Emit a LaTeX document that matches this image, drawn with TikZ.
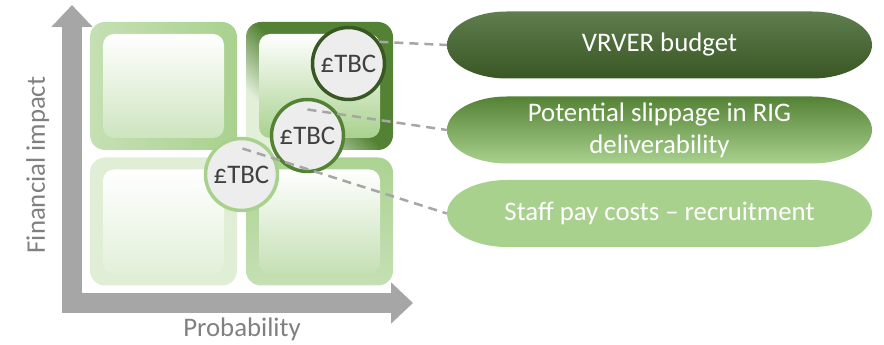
\documentclass[tikz,border=0pt]{standalone}
\usepackage{fontspec}
\setmainfont{Carlito}
\usepackage{tikz}
\usetikzlibrary{arrows.meta,positioning,calc}

\definecolor{axisgrey}{HTML}{A6A6A6}
\definecolor{labelgrey}{HTML}{808080}
\definecolor{tbcgrey}{HTML}{404040}
\definecolor{tbcfill}{HTML}{EDEDED}
\definecolor{darkgreen}{HTML}{385723}
\definecolor{midgreen}{HTML}{548235}
\definecolor{lightgreen}{HTML}{A9D18E}
\definecolor{palegreen}{HTML}{C5E0B4}
\definecolor{faintgreen}{HTML}{E2F0D9}
\definecolor{pilltop}{RGB}{95,125,78}
\colorlet{hhfade}{palegreen!50!white}

% dark frame that fades out towards one corner
\pgfdeclareverticalshading{hhframe}{100bp}{color(0bp)=(hhfade); color(30bp)=(hhfade); color(50bp)=(midgreen); color(100bp)=(midgreen)}

\newcommand{\bigfont}{\fontsize{26.8}{32}\selectfont}

\begin{document}
\begin{tikzpicture}[
  x=1pt, y=1pt,
  axis/.style={draw=axisgrey, line width=20pt, line join=miter, >={Triangle[length=22pt,width=40pt]}, <->},
  axlabel/.style={text=labelgrey, font=\bigfont, inner sep=0pt},
  frame/.style={rounded corners=15pt, minimum width=147pt, minimum height=128pt, inner sep=0pt},
  well/.style={rounded corners=11pt, minimum width=121pt, minimum height=104pt, inner sep=0pt, top color=white},
  tbc/.style={circle, draw=#1, line width=3.5pt, fill=tbcfill, minimum size=72pt, inner sep=0pt, text=tbcgrey, font=\bigfont},
  pill/.style={minimum width=425pt, minimum height=67pt, inner sep=0pt, align=center, text=white, font=\bigfont,
    path picture={
      \shade[#1] let \p1=(path picture bounding box.south west), \p2=(path picture bounding box.north east) in
        (\x1+60pt,\y1) -- (\x2-60pt,\y1) arc[start angle=-90, end angle=90, x radius=60pt, y radius=33.5pt]
        -- (\x1+60pt,\y2) arc[start angle=90, end angle=270, x radius=60pt, y radius=33.5pt] -- cycle;
    }},
  link/.style={draw=axisgrey, line width=2.5pt, dash pattern=on 9pt off 6pt}
]
\useasboundingbox (0,0) rectangle (884,345);

% axes
\coordinate (origin) at (72,42);
\coordinate (ytip) at (72,340);
\coordinate (xtip) at (413,42);
\draw[axis] (ytip) -- (origin) -- (xtip);
\node[axlabel, anchor=base] (xlab) at (242,8) {Probability};
\node[axlabel, anchor=base, rotate=90] (ylab) at (45,180) {Financial impact};

% the four quadrants
\node[frame, left color=palegreen, right color=lightgreen] (hl) at (163.5,259) {};
\node[well, bottom color=palegreen!85!white] (hl-in) at (hl) {};
\node[frame, shading=hhframe, shading angle=-45] (hh) at (319.5,259) {};
\node[well, bottom color=lightgreen] (hh-in) at (hh) {};
\node[frame, fill=faintgreen!90!palegreen] (ll) at (163.5,123.5) {};
\node[well, bottom color=faintgreen] (ll-in) at (ll) {};
\node[frame, top color=lightgreen!90!palegreen, bottom color=palegreen] (lh) at (319.5,123.5) {};
\node[well, bottom color=palegreen] (lh-in) at (lh) {};

% cost markers
\node[tbc=darkgreen] (c1) at (348.5,281.5) {£TBC};
\node[tbc=midgreen] (c2) at (307.5,209.5) {£TBC};
\node[tbc=lightgreen] (c3) at (241.5,170.5) {£TBC};

% risk labels
\node[pill={top color=pilltop, bottom color=darkgreen}] (p1) at (659.5,300) {VRVER budget};
\node[pill={top color=midgreen, bottom color=lightgreen}] (p2) at (659.5,215) {Potential slippage in RIG\\deliverability};
\node[pill={top color=lightgreen, bottom color=lightgreen}] (p3) at (659.5,131.5) {Staff pay costs -- recruitment};

\coordinate (c2top) at ($(c2)+(0,26)$);
\coordinate (c3top) at ($(c3)+(1,26)$);
\draw[link] (c1.35) -- (p1.west);
\draw[link] (c2top) -- (p2.west);
\draw[link] (c3top) -- (p3.west);
\end{tikzpicture}
\end{document}
